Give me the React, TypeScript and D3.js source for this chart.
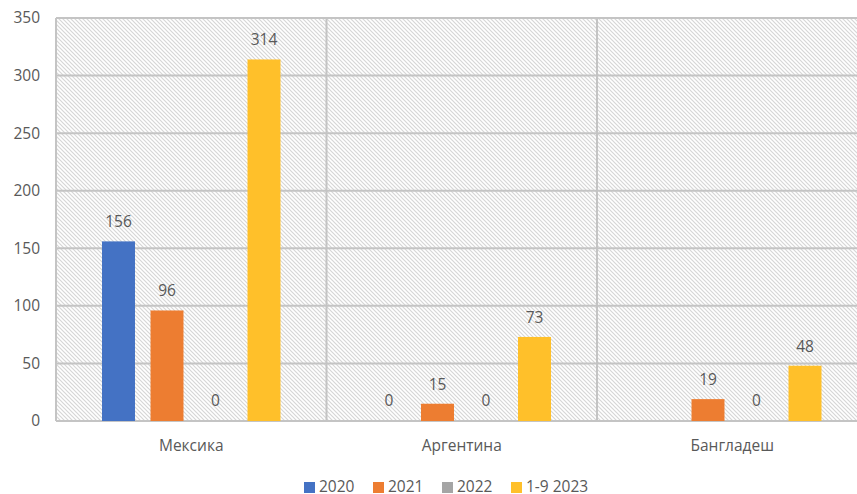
import React from "react";
import * as d3 from "d3";

const categories = ["Мексика", "Аргентина", "Бангладеш"];
const seriesNames = ["2020", "2021", "2022", "1-9 2023"];
const colors = ["#4472c4", "#ed7d31", "#a5a5a5", "#ffc02a"];
const s2020: (number | null)[] = [156, 0, null];
const s2021: (number | null)[] = [96, 15, 19];
const s2022: (number | null)[] = [0, 0, 0];
const s2023: (number | null)[] = [314, 73, 48];
const seriesValues = [s2020, s2021, s2022, s2023];
const yTicks = [0, 50, 100, 150, 200, 250, 300, 350];

const W = 857;
const H = 494;
const left = 56;
const right = 867.5;
const top = 18;
const bottom = 421;
const font = "'Open Sans', sans-serif";
const fs = 15.5;
const textColor = "#595959";
const gridColor = "#c4c4c4";

export default function App() {
  const x = d3.scaleBand<string>().domain(categories).range([left, right]).padding(0);
  const y = d3.scaleLinear().domain([0, 350]).range([bottom, top]);
  const bw = x.bandwidth();
  const step = bw * 0.1793;
  const barW = step * 0.68;

  return (
    <svg width={W} height={H} style={{ position: "absolute", left: 0, top: 0 }}>
      <defs>
        <pattern id="hatch" patternUnits="userSpaceOnUse" width="4" height="4">
          <rect width="4" height="4" fill="#ffffff" />
          <path d="M-1,-1 L5,5 M-1,3 L1,5 M3,-1 L5,1" stroke="#d6d6d6" strokeWidth="1.2" />
        </pattern>
      </defs>
      <rect x={0} y={0} width={W} height={H} fill="#ffffff" />
      <rect x={left} y={top} width={right - left} height={bottom - top} fill="url(#hatch)" />
      {yTicks.map((t) => (
        <g key={t}>
          <line x1={left} x2={right} y1={y(t)} y2={y(t)} stroke={gridColor} strokeWidth={2} />
          <text x={40} y={y(t)} dy="0.35em" textAnchor="end" fontSize={fs} fill={textColor} fontFamily={font}>
            {t}
          </text>
        </g>
      ))}
      {categories.map((c) => (
        <line key={c} x1={x(c)!} x2={x(c)!} y1={top} y2={bottom} stroke={gridColor} strokeWidth={2} />
      ))}
      <line x1={left} x2={left} y1={top} y2={bottom} stroke={gridColor} strokeWidth={2} />
      {categories.map((c, ci) => {
        const cx = x(c)! + bw / 2;
        return (
          <g key={c}>
            {seriesValues.map((vals, si) => {
              const v = vals[ci];
              if (v === null) return null;
              const bc = cx + (si - 1.5) * step;
              return (
                <g key={si}>
                  {v > 0 && (
                    <rect x={bc - barW / 2} y={y(v)} width={barW} height={bottom - y(v)} fill={colors[si]} />
                  )}
                  <text
                    x={bc}
                    y={y(v) - (v > 0 ? 14 : 15)}
                    textAnchor="middle"
                    fontSize={fs}
                    fill={textColor}
                    fontFamily={font}
                  >
                    {v}
                  </text>
                </g>
              );
            })}
            <text x={cx} y={451} textAnchor="middle" fontSize={fs} fill={textColor} fontFamily={font}>
              {c}
            </text>
          </g>
        );
      })}
      {seriesNames.map((s, i) => {
        const lx = 304 + i * 69;
        return (
          <g key={s}>
            <rect x={lx} y={482} width={11} height={11} fill={colors[i]} />
            <text x={lx + 15} y={492} fontSize={fs} fill={textColor} fontFamily={font}>
              {s}
            </text>
          </g>
        );
      })}
    </svg>
  );
}
